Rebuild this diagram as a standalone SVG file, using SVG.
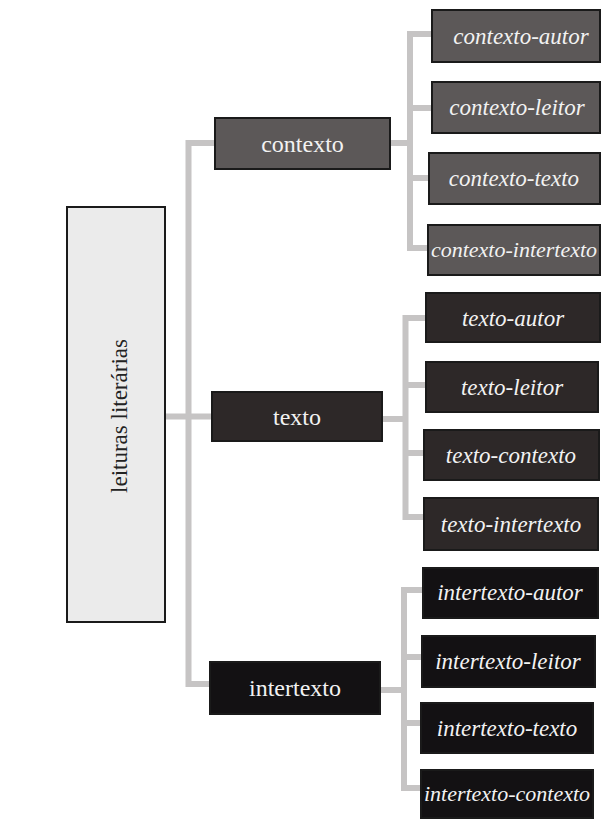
<svg xmlns="http://www.w3.org/2000/svg" width="601" height="820" viewBox="0 0 601 820">
<style>
.bg{fill:#ffffff}
.conn{fill:none;stroke:#c6c4c4;stroke-width:6}
.box{stroke:#1a1a1a;stroke-width:2}
.root{fill:#ebebeb}
.l1{fill:#5c5858}
.l2{fill:#2d2828}
.l3{fill:#131113}
.t{font-family:"Liberation Serif","Times New Roman",serif;fill:#f2f2f2;text-anchor:middle}
.mid{font-size:24px}
.leaf{font-size:23px;font-style:italic}
.long{font-size:22px}
.rt{font-family:"Liberation Serif","Times New Roman",serif;fill:#222;font-size:23px;text-anchor:middle}
</style>
<rect class="bg" x="0" y="0" width="601" height="820"/>
<g id="connectors">
<path class="conn" d="M165 416.5 H212"/>
<path class="conn" d="M215 143 H188.5 V684 H210"/>
<path class="conn" d="M390 143 H410"/>
<path class="conn" d="M432 34 H410 V248 H428"/>
<path class="conn" d="M410 108 H432"/>
<path class="conn" d="M410 178 H429"/>
<path class="conn" d="M382 419 H405.5"/>
<path class="conn" d="M426 318 H405.5 V517 H424"/>
<path class="conn" d="M405.5 385 H426"/>
<path class="conn" d="M405.5 453 H424"/>
<path class="conn" d="M380 690 H404"/>
<path class="conn" d="M423 590 H404 V788 H421"/>
<path class="conn" d="M404 657 H422"/>
<path class="conn" d="M404 723 H421"/>
</g>
<g id="root">
<rect class="box root" x="67" y="207" width="98" height="415"/>
<text class="rt" transform="translate(127,416) rotate(-90)">leituras literárias</text>
</g>
<g id="contexto">
<rect class="box l1" x="215" y="118" width="175" height="51"/>
<text class="t mid" x="302.5" y="152">contexto</text>
</g>
<g id="texto">
<rect class="box l2" x="212" y="392" width="170" height="49"/>
<text class="t mid" x="297" y="425">texto</text>
</g>
<g id="intertexto">
<rect class="box l3" x="210" y="662" width="170" height="52"/>
<text class="t mid" x="295" y="696">intertexto</text>
</g>
<g id="contexto-autor">
<rect class="box l1" x="432" y="10" width="168" height="52"/>
<text class="t leaf" x="521" y="44">contexto-autor</text>
</g>
<g id="contexto-leitor">
<rect class="box l1" x="432" y="82" width="168" height="51"/>
<text class="t leaf" x="517" y="115">contexto-leitor</text>
</g>
<g id="contexto-texto">
<rect class="box l1" x="429" y="153" width="171" height="51"/>
<text class="t leaf" x="514" y="186">contexto-texto</text>
</g>
<g id="contexto-intertexto">
<rect class="box l1" x="428" y="225" width="172" height="50"/>
<text class="t leaf long" x="514" y="257">contexto-intertexto</text>
</g>
<g id="texto-autor">
<rect class="box l2" x="426" y="293" width="174" height="49"/>
<text class="t leaf" x="513" y="326">texto-autor</text>
</g>
<g id="texto-leitor">
<rect class="box l2" x="426" y="362" width="172" height="50"/>
<text class="t leaf" x="512" y="395">texto-leitor</text>
</g>
<g id="texto-contexto">
<rect class="box l2" x="424" y="430" width="175" height="50"/>
<text class="t leaf" x="511" y="463">texto-contexto</text>
</g>
<g id="texto-intertexto">
<rect class="box l2" x="424" y="498" width="174" height="52"/>
<text class="t leaf" x="511" y="532">texto-intertexto</text>
</g>
<g id="intertexto-autor">
<rect class="box l3" x="423" y="568" width="175" height="50"/>
<text class="t leaf" x="510" y="600">intertexto-autor</text>
</g>
<g id="intertexto-leitor">
<rect class="box l3" x="422" y="636" width="173" height="51"/>
<text class="t leaf" x="508" y="669">intertexto-leitor</text>
</g>
<g id="intertexto-texto">
<rect class="box l3" x="421" y="703" width="172" height="50"/>
<text class="t leaf" x="507" y="736">intertexto-texto</text>
</g>
<g id="intertexto-contexto">
<rect class="box l3" x="421" y="770" width="172" height="48"/>
<text class="t leaf long" x="507" y="801">intertexto-contexto</text>
</g>
</svg>
